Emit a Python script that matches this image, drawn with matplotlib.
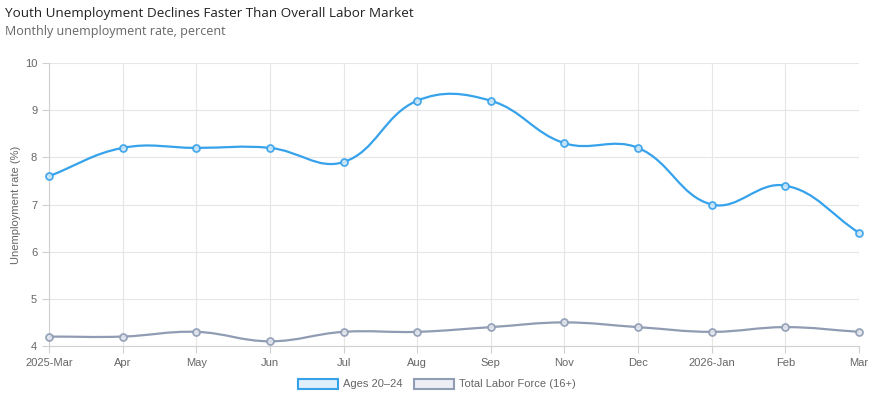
import numpy as np
import matplotlib.pyplot as plt
from matplotlib.path import Path
from matplotlib.patches import PathPatch, Patch

months = ["2025-Mar", "Apr", "May", "Jun", "Jul", "Aug", "Sep", "Nov", "Dec",
          "2026-Jan", "Feb", "Mar"]
youth = [7.6, 8.2, 8.2, 8.2, 7.9, 9.2, 9.2, 8.3, 8.2, 7.0, 7.4, 6.4]
total = [4.2, 4.2, 4.3, 4.1, 4.3, 4.3, 4.4, 4.5, 4.4, 4.3, 4.4, 4.3]

blue = "#36a2eb"
slate = "#8f9cb3"

W, H = 875, 405
fig = plt.figure(figsize=(W / 100, H / 100), dpi=100)
left, right, top, bottom = 49, 859, 63, 346
ax = fig.add_axes([left / W, (H - bottom) / H, (right - left) / W, (bottom - top) / H])
ax.set_xlim(0, len(months) - 1)
ax.set_ylim(4, 10)

# pixel scale, used for chart.js style bezier control points
sx = (right - left) / (len(months) - 1)
sy = (bottom - top) / 6.0


def spline_path(xs, ys, tension=0.4):
    px = np.array(xs, float) * sx
    py = np.array(ys, float) * sy
    n = len(px)
    cps = []
    for i in range(n):
        p0 = (px[max(i - 1, 0)], py[max(i - 1, 0)])
        p1 = (px[i], py[i])
        p2 = (px[min(i + 1, n - 1)], py[min(i + 1, n - 1)])
        d01 = np.hypot(p1[0] - p0[0], p1[1] - p0[1])
        d12 = np.hypot(p2[0] - p1[0], p2[1] - p1[1])
        s01 = d01 / (d01 + d12) if d01 + d12 else 0
        s12 = d12 / (d01 + d12) if d01 + d12 else 0
        fa, fb = tension * s01, tension * s12
        prev = (p1[0] - fa * (p2[0] - p0[0]), p1[1] - fa * (p2[1] - p0[1]))
        nxt = (p1[0] + fb * (p2[0] - p0[0]), p1[1] + fb * (p2[1] - p0[1]))
        cps.append((prev, nxt))
    verts = [(px[0], py[0])]
    codes = [Path.MOVETO]
    for i in range(1, n):
        verts += [cps[i - 1][1], cps[i][0], (px[i], py[i])]
        codes += [Path.CURVE4] * 3
    verts = [(vx / sx, vy / sy) for vx, vy in verts]
    return Path(verts, codes)


x = np.arange(len(months))
for vals, col, fill in [(youth, blue, "#cfe7f8"), (total, slate, "#e3e6ee")]:
    ax.add_patch(PathPatch(spline_path(x, vals), facecolor="none", edgecolor=col,
                           lw=1.6, zorder=3, clip_on=False))
    ax.plot(x, vals, "o", ms=5, mfc=fill, mec=col, mew=1.3, alpha=0.9, zorder=4, clip_on=False)

ax.set_xticks(x)
ax.set_xticklabels(months)
ax.set_yticks(range(4, 11))
ax.grid(True, color="#e6e6e6", lw=0.8)
ax.set_axisbelow(True)
for s in ["top", "right"]:
    ax.spines[s].set_visible(False)
for s in ["left", "bottom"]:
    ax.spines[s].set_color("#d0d0d0")
ax.tick_params(colors="#d0d0d0", labelcolor="#666666", labelsize=8, length=5, width=0.8)
for lab in ax.get_xticklabels() + ax.get_yticklabels():
    lab.set_family("Liberation Sans")
ax.set_ylabel("Unemployment rate (%)", fontsize=8, color="#666666",
              family="Liberation Sans", labelpad=3)

fig.text(5 / W, 1 - 14 / H, "Youth Unemployment Declines Faster Than Overall Labor Market",
         fontsize=9.7, color="#222222", va="center", family="Open Sans")
fig.text(5 / W, 1 - 32 / H, "Monthly unemployment rate, percent",
         fontsize=9, color="#666666", va="center", family="Open Sans")

handles = [Patch(facecolor="#dff0fb", edgecolor=blue, lw=1.5, label="Ages 20–24"),
           Patch(facecolor="#eceef3", edgecolor=slate, lw=1.5, label="Total Labor Force (16+)")]
leg = fig.legend(handles=handles, loc="center", bbox_to_anchor=(437 / W, 1 - 384 / H),
                 ncol=2, frameon=False, handlelength=3.6, handleheight=1.0,
                 columnspacing=1.0, handletextpad=0.5,
                 prop={"family": "Liberation Sans", "size": 8})
for t in leg.get_texts():
    t.set_color("#666666")

fig.savefig("out.png", dpi=100)
